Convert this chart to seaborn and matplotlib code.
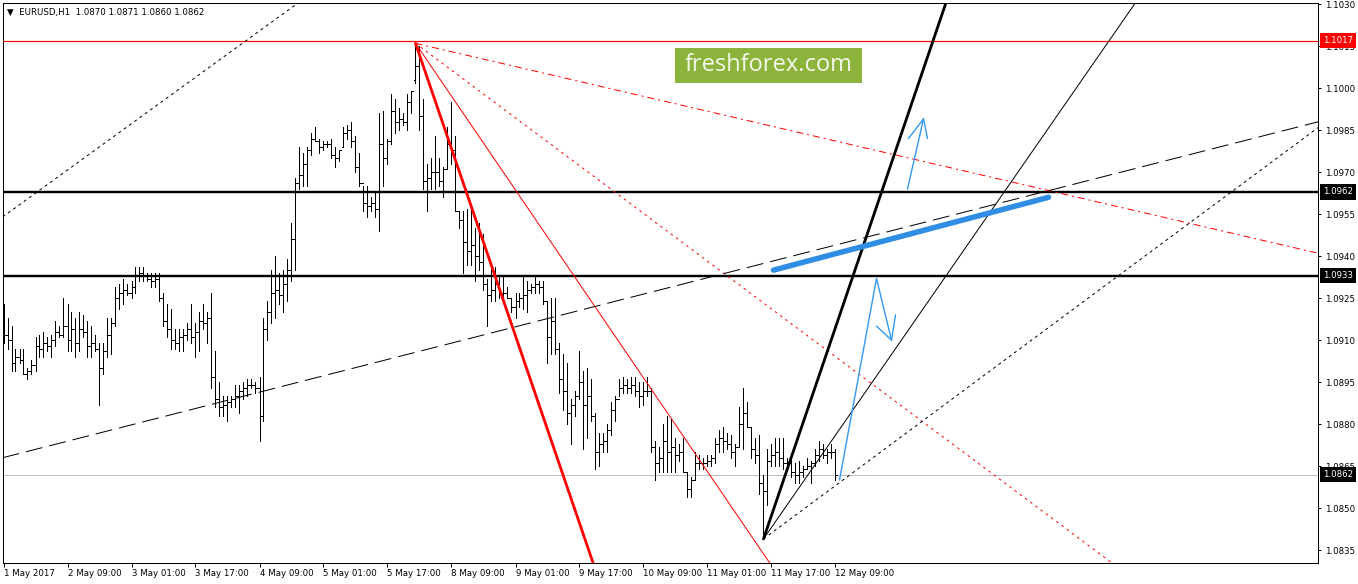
import numpy as np
import matplotlib
matplotlib.use("Agg")
import matplotlib.pyplot as plt
import matplotlib.transforms as mtransforms
from matplotlib.patches import Rectangle
import seaborn as sns

# ---------------- data (EURUSD H1) ----------------
title_text = "EURUSD,H1  1.0870 1.0871 1.0860 1.0862"

opens = [
    1.0915, 1.0912, 1.0910, 1.0902, 1.0904, 1.0903, 1.0898, 1.0899, 1.0901, 1.0908,
    1.0907, 1.0909, 1.0908, 1.0910, 1.0913, 1.0912, 1.0915, 1.0910, 1.0914, 1.0909,
    1.0914, 1.0913, 1.0908, 1.0909, 1.0907, 1.0900, 1.0906, 1.0912, 1.0916, 1.0925,
    1.0927, 1.0928, 1.0927, 1.0929, 1.0933, 1.0934, 1.0933, 1.0932, 1.0931, 1.0932,
    1.0925, 1.0917, 1.0914, 1.0910, 1.0909, 1.0911, 1.0912, 1.0914, 1.0911, 1.0913,
    1.0917, 1.0916, 1.0918, 1.0897, 1.0889, 1.0886, 1.0887, 1.0888, 1.0889, 1.0890,
    1.0892, 1.0893, 1.0894, 1.0894, 1.0893, 1.0883, 1.0914, 1.0920, 1.0927, 1.0928,
    1.0926, 1.0930, 1.0935, 1.0946, 1.0966, 1.0969, 1.0973, 1.0978, 1.0982, 1.0981,
    1.0979, 1.0980, 1.0980, 1.0976, 1.0975, 1.0979, 1.0984, 1.0985, 1.0981, 1.0972,
    1.0966, 1.0959, 1.0958, 1.0959, 1.0957, 1.0980, 1.0975, 1.0981, 1.0992, 1.0988,
    1.0989, 1.0988, 1.0995, 1.1003, 1.1008, 1.0990, 1.0967, 1.0968, 1.0970, 1.0970,
    1.0967, 1.0971, 1.0980, 1.0978, 1.0956, 1.0953, 1.0945, 1.0942, 1.0944, 1.0940,
    1.0938, 1.0930, 1.0926, 1.0928, 1.0930, 1.0927, 1.0927, 1.0925, 1.0922, 1.0924,
    1.0925, 1.0926, 1.0928, 1.0929, 1.0930, 1.0929, 1.0924, 1.0911, 1.0917, 1.0907,
    1.0896, 1.0892, 1.0884, 1.0887, 1.0890, 1.0895, 1.0887, 1.0890, 1.0883, 1.0870,
    1.0873, 1.0874, 1.0878, 1.0885, 1.0889, 1.0893, 1.0894, 1.0893, 1.0894, 1.0892,
    1.0890, 1.0892, 1.0892, 1.0872, 1.0866, 1.0868, 1.0874, 1.0870, 1.0872, 1.0869,
    1.0870, 1.0863, 1.0857, 1.0860, 1.0866, 1.0866, 1.0866, 1.0867, 1.0868, 1.0873,
    1.0875, 1.0874, 1.0873, 1.0870, 1.0872, 1.0880, 1.0884, 1.0879, 1.0871, 1.0869,
    1.0859, 1.0856, 1.0867, 1.0869, 1.0870, 1.0868, 1.0866, 1.0866, 1.0863, 1.0862,
    1.0863, 1.0864, 1.0865, 1.0866, 1.0869, 1.0871, 1.0869, 1.0870, 1.0870,
]
highs = [
    1.0923, 1.0918, 1.0915, 1.0907, 1.0907, 1.0907, 1.0900, 1.0903, 1.0911, 1.0912,
    1.0913, 1.0911, 1.0912, 1.0917, 1.0915, 1.0925, 1.0923, 1.0920, 1.0918, 1.0920,
    1.0919, 1.0917, 1.0915, 1.0912, 1.0909, 1.0909, 1.0918, 1.0918, 1.0929, 1.0930,
    1.0932, 1.0930, 1.0931, 1.0936, 1.0936, 1.0936, 1.0934, 1.0934, 1.0934, 1.0934,
    1.0927, 1.0923, 1.0921, 1.0914, 1.0914, 1.0914, 1.0916, 1.0923, 1.0916, 1.0920,
    1.0923, 1.0920, 1.0927, 1.0906, 1.0895, 1.0890, 1.0890, 1.0890, 1.0894, 1.0894,
    1.0895, 1.0896, 1.0896, 1.0895, 1.0897, 1.0918, 1.0924, 1.0935, 1.0940, 1.0934,
    1.0935, 1.0939, 1.0952, 1.0968, 1.0979, 1.0977, 1.0979, 1.0984, 1.0986, 1.0982,
    1.0981, 1.0981, 1.0982, 1.0979, 1.0978, 1.0986, 1.0987, 1.0988, 1.0983, 1.0977,
    1.0965, 1.0965, 1.0961, 1.0963, 1.0991, 1.0992, 1.0982, 1.0998, 1.0996, 1.0993,
    1.0991, 1.0998, 1.0999, 1.1016, 1.1015, 1.0996, 1.0973, 1.0975, 1.0983, 1.0975,
    1.0972, 1.0986, 1.0995, 1.0983, 1.0956, 1.0956, 1.0957, 1.0957, 1.0950, 1.0952,
    1.0948, 1.0932, 1.0936, 1.0936, 1.0933, 1.0933, 1.0929, 1.0925, 1.0927, 1.0927,
    1.0933, 1.0931, 1.0930, 1.0933, 1.0931, 1.0931, 1.0924, 1.0925, 1.0925, 1.0909,
    1.0905, 1.0902, 1.0889, 1.0892, 1.0906, 1.0899, 1.0900, 1.0896, 1.0884, 1.0877,
    1.0877, 1.0880, 1.0888, 1.0890, 1.0896, 1.0897, 1.0896, 1.0897, 1.0897, 1.0895,
    1.0895, 1.0897, 1.0893, 1.0874, 1.0872, 1.0880, 1.0883, 1.0882, 1.0875, 1.0873,
    1.0875, 1.0863, 1.0861, 1.0870, 1.0869, 1.0868, 1.0869, 1.0869, 1.0875, 1.0878,
    1.0879, 1.0877, 1.0876, 1.0873, 1.0886, 1.0893, 1.0888, 1.0879, 1.0875, 1.0876,
    1.0862, 1.0871, 1.0873, 1.0875, 1.0875, 1.0875, 1.0868, 1.0868, 1.0866, 1.0867,
    1.0865, 1.0868, 1.0867, 1.0871, 1.0874, 1.0873, 1.0871, 1.0873, 1.0871,
]
lows = [
    1.0909, 1.0907, 1.0899, 1.0899, 1.0902, 1.0898, 1.0896, 1.0898, 1.0899, 1.0904,
    1.0904, 1.0906, 1.0904, 1.0908, 1.0911, 1.0911, 1.0906, 1.0906, 1.0904, 1.0906,
    1.0911, 1.0904, 1.0904, 1.0906, 1.0887, 1.0898, 1.0904, 1.0905, 1.0915, 1.0921,
    1.0923, 1.0926, 1.0925, 1.0927, 1.0931, 1.0931, 1.0931, 1.0929, 1.0929, 1.0924,
    1.0915, 1.0911, 1.0907, 1.0907, 1.0906, 1.0906, 1.0910, 1.0909, 1.0904, 1.0906,
    1.0914, 1.0909, 1.0893, 1.0886, 1.0883, 1.0883, 1.0881, 1.0886, 1.0886, 1.0884,
    1.0889, 1.0890, 1.0893, 1.0891, 1.0874, 1.0881, 1.0910, 1.0916, 1.0918, 1.0923,
    1.0920, 1.0924, 1.0931, 1.0935, 1.0964, 1.0965, 1.0965, 1.0976, 1.0981, 1.0977,
    1.0978, 1.0979, 1.0975, 1.0972, 1.0974, 1.0979, 1.0982, 1.0979, 1.0970, 1.0965,
    1.0956, 1.0954, 1.0956, 1.0954, 1.0949, 1.0965, 1.0973, 1.0980, 1.0984, 1.0985,
    1.0987, 1.0985, 1.0991, 1.1002, 1.0985, 1.0964, 1.0956, 1.0964, 1.0964, 1.0965,
    1.0961, 1.0971, 1.0973, 1.0956, 1.0950, 1.0934, 1.0937, 1.0937, 1.0931, 1.0935,
    1.0928, 1.0915, 1.0924, 1.0924, 1.0925, 1.0924, 1.0925, 1.0920, 1.0918, 1.0922,
    1.0921, 1.0920, 1.0927, 1.0927, 1.0927, 1.0923, 1.0902, 1.0905, 1.0905, 1.0891,
    1.0885, 1.0880, 1.0873, 1.0883, 1.0889, 1.0871, 1.0875, 1.0881, 1.0864, 1.0865,
    1.0870, 1.0870, 1.0876, 1.0881, 1.0890, 1.0891, 1.0891, 1.0891, 1.0890, 1.0886,
    1.0887, 1.0890, 1.0870, 1.0860, 1.0863, 1.0863, 1.0863, 1.0863, 1.0863, 1.0867,
    1.0863, 1.0854, 1.0854, 1.0860, 1.0864, 1.0864, 1.0865, 1.0865, 1.0866, 1.0870,
    1.0870, 1.0871, 1.0868, 1.0865, 1.0872, 1.0871, 1.0879, 1.0868, 1.0866, 1.0855,
    1.0839, 1.0851, 1.0865, 1.0865, 1.0865, 1.0864, 1.0865, 1.0861, 1.0859, 1.0859,
    1.0861, 1.0864, 1.0859, 1.0865, 1.0867, 1.0868, 1.0866, 1.0868, 1.0860,
]
closes = [
    1.0912, 1.0910, 1.0902, 1.0904, 1.0903, 1.0898, 1.0899, 1.0901, 1.0908, 1.0907,
    1.0909, 1.0908, 1.0910, 1.0913, 1.0912, 1.0915, 1.0910, 1.0914, 1.0909, 1.0914,
    1.0913, 1.0908, 1.0909, 1.0907, 1.0900, 1.0906, 1.0912, 1.0916, 1.0925, 1.0927,
    1.0928, 1.0927, 1.0929, 1.0933, 1.0934, 1.0933, 1.0932, 1.0931, 1.0932, 1.0925,
    1.0917, 1.0914, 1.0910, 1.0909, 1.0911, 1.0912, 1.0914, 1.0911, 1.0913, 1.0917,
    1.0916, 1.0918, 1.0897, 1.0889, 1.0886, 1.0887, 1.0888, 1.0889, 1.0890, 1.0892,
    1.0893, 1.0894, 1.0894, 1.0893, 1.0883, 1.0914, 1.0920, 1.0927, 1.0928, 1.0926,
    1.0930, 1.0935, 1.0946, 1.0966, 1.0969, 1.0973, 1.0978, 1.0982, 1.0981, 1.0979,
    1.0980, 1.0980, 1.0976, 1.0975, 1.0978, 1.0984, 1.0985, 1.0981, 1.0972, 1.0966,
    1.0959, 1.0958, 1.0959, 1.0957, 1.0980, 1.0975, 1.0981, 1.0992, 1.0988, 1.0989,
    1.0988, 1.0995, 1.0999, 1.1008, 1.0990, 1.0967, 1.0968, 1.0970, 1.0970, 1.0967,
    1.0971, 1.0980, 1.0978, 1.0956, 1.0953, 1.0945, 1.0942, 1.0944, 1.0940, 1.0938,
    1.0930, 1.0926, 1.0928, 1.0930, 1.0927, 1.0927, 1.0925, 1.0922, 1.0924, 1.0925,
    1.0926, 1.0928, 1.0929, 1.0930, 1.0929, 1.0924, 1.0911, 1.0917, 1.0907, 1.0896,
    1.0892, 1.0884, 1.0887, 1.0890, 1.0895, 1.0887, 1.0890, 1.0883, 1.0870, 1.0873,
    1.0874, 1.0878, 1.0885, 1.0889, 1.0893, 1.0894, 1.0893, 1.0894, 1.0892, 1.0890,
    1.0892, 1.0892, 1.0872, 1.0866, 1.0868, 1.0874, 1.0870, 1.0872, 1.0869, 1.0870,
    1.0863, 1.0857, 1.0860, 1.0866, 1.0866, 1.0866, 1.0867, 1.0868, 1.0873, 1.0875,
    1.0874, 1.0873, 1.0870, 1.0872, 1.0880, 1.0884, 1.0879, 1.0871, 1.0869, 1.0859,
    1.0856, 1.0867, 1.0869, 1.0870, 1.0868, 1.0866, 1.0866, 1.0863, 1.0862, 1.0863,
    1.0864, 1.0865, 1.0866, 1.0869, 1.0871, 1.0869, 1.0870, 1.0870, 1.0862,
]

time_labels = ["1 May 2017", "2 May 09:00", "3 May 01:00", "3 May 17:00",
               "4 May 09:00", "5 May 01:00", "5 May 17:00", "8 May 09:00",
               "9 May 01:00", "9 May 17:00", "10 May 09:00", "11 May 01:00",
               "11 May 17:00", "12 May 09:00"]
time_label_bars = [0, 16, 32, 48, 64, 80, 96, 112, 128, 144, 160, 176, 192, 208]

price_ticks = [1.0835, 1.0850, 1.0865, 1.0880, 1.0895, 1.0910, 1.0925,
               1.0940, 1.0955, 1.0970, 1.0985, 1.1000, 1.1015, 1.1030]

red_level = 1.1017
black_levels = [1.09629, 1.0933]
black_level_labels = ["1.0962", "1.0933"]
bid_price = 1.0862

# fan from the 5 May top (bar 103)
red_thick_x, red_thick_y = [103, 147.5], [1.1016, 1.0830]
red_thin_x, red_thin_y = [103, 191.75], [1.1016, 1.0830]
red_dot_x, red_dot_y = [103, 277.5], [1.1016, 1.0830]
red_dashdot_x, red_dashdot_y = [103, 328.75], [1.1016, 1.0941]

# fan from the 11 May low (bar 190)
black_thick_x, black_thick_y = [190, 235.5], [1.0839, 1.1030]
black_thin_x, black_thin_y = [190, 282.75], [1.0839, 1.1030]
black_dot_x, black_dot_y = [190, 328.75], [1.0839, 1.0986]
black_dot2_x, black_dot2_y = [-0.2, 73.25], [1.0954, 1.1030]
long_dash_x, long_dash_y = [-0.2, 328.75], [1.0868, 1.0988]

# blue forecast marks
blue_thick_x, blue_thick_y = [192.5, 261.25], [1.0935, 1.0961]
zigzag_x, zigzag_y = [209, 218.25, 222], [1.0860, 1.0932, 1.0910]
zig_head_x = [[222, 223], [222, 218.25]]
zig_head_y = [[1.0910, 1.0919], [1.0910, 1.0915]]
arrow_x, arrow_y = [226, 230], [1.0964, 1.0989]
arrow_head_x = [[230, 226.25], [230, 231]]
arrow_head_y = [[1.0989, 1.0982], [1.0989, 1.0982]]

# ---------------- drawing ----------------
sns.set_style("white")
plt.rcParams['font.family'] = ['DejaVu Sans']

PX = 0.72  # one pixel in points at 100 dpi

fig = plt.figure(figsize=(13.58, 5.84), dpi=100)
ax = fig.add_axes([3 / 1358, 21 / 584, 1315 / 1358, 560 / 584])

bars = np.arange(len(closes))
ax.vlines(bars, lows, highs, color='black', lw=PX, antialiased=False, zorder=2)
ax.hlines(opens, bars - 0.3, bars, color='black', lw=PX, antialiased=False, zorder=2)
ax.hlines(closes, bars, bars + 0.3, color='black', lw=PX, antialiased=False, zorder=2)

# horizontal levels
ax.axhline(bid_price, color='#c0c0c0', lw=PX, zorder=1)
ax.axhline(red_level, color='red', lw=1.2 * PX, zorder=3)
for lvl in black_levels:
    ax.axhline(lvl, color='black', lw=2.4 * PX, zorder=3)


def trend(x, y, color, lw, ls='-'):
    sns.lineplot(x=x, y=y, color=color, linewidth=lw * PX, linestyle=ls,
                 sort=False, estimator=None, ax=ax, zorder=3)


trend(red_thick_x, red_thick_y, 'red', 2.8)
trend(red_thin_x, red_thin_y, 'red', 1.0)
trend(red_dot_x, red_dot_y, 'red', 1.0, (0, (2.5, 4)))
trend(red_dashdot_x, red_dashdot_y, 'red', 1.0, (0, (7, 4, 2, 4)))

trend(black_thick_x, black_thick_y, 'black', 2.8)
trend(black_thin_x, black_thin_y, 'black', 1.0)
trend(black_dot_x, black_dot_y, 'black', 1.0, (0, (3, 3.5)))
trend(black_dot2_x, black_dot2_y, 'black', 1.0, (0, (3, 3.5)))
trend(long_dash_x, long_dash_y, 'black', 1.0, (0, (17, 7)))

trend(blue_thick_x, blue_thick_y, '#2f8de4', 5.5)
trend(zigzag_x, zigzag_y, '#3399f0', 1.4)
for hx, hy in zip(zig_head_x, zig_head_y):
    trend(hx, hy, '#3399f0', 1.4)
trend(arrow_x, arrow_y, '#3399f0', 1.4)
for hx, hy in zip(arrow_head_x, arrow_head_y):
    trend(hx, hy, '#3399f0', 1.4)

ax.set_xlim(-0.125, -0.125 + 1315 / 4)
ax.set_ylim(1.08304, 1.10304)

for sp in ax.spines.values():
    sp.set_visible(True)
    sp.set_color('black')
    sp.set_linewidth(PX)

# price axis on the right
ax.yaxis.tick_right()
ax.set_yticks(price_ticks)
ax.set_yticklabels([f"{v:.4f}" for v in price_ticks])
ax.tick_params(axis='y', which='major', right=True, left=False, direction='out',
               length=3 * PX, width=PX, pad=3, labelsize=6.2, colors='black')

# time axis
ax.set_xticks(time_label_bars)
ax.set_xticklabels(time_labels)
ax.tick_params(axis='x', which='major', bottom=True, direction='out',
               length=4 * PX, width=PX, pad=1.5, labelsize=6.2, colors='black')
for lbl in ax.get_xticklabels():
    lbl.set_horizontalalignment('left')
ax.set_xlabel("")
ax.set_ylabel("")

# price boxes on the right scale
tr = mtransforms.blended_transform_factory(ax.transAxes, ax.transData)
ax.text(1.0035, red_level, "1.1017", transform=tr, ha='left', va='center',
        fontsize=6.2, color='white', clip_on=False, zorder=6,
        bbox=dict(boxstyle='square,pad=0.35', fc='red', ec='none'))
for lvl, txt in zip(black_levels, black_level_labels):
    ax.text(1.0035, lvl, txt, transform=tr, ha='left', va='center',
            fontsize=6.2, color='white', clip_on=False, zorder=6,
            bbox=dict(boxstyle='square,pad=0.35', fc='black', ec='none'))
ax.text(1.0035, bid_price, "1.0862", transform=tr, ha='left', va='center',
        fontsize=6.2, color='white', clip_on=False, zorder=6,
        bbox=dict(boxstyle='square,pad=0.35', fc='black', ec='none'))

# header
ax.text(0.003, 0.983, "\u25BC  " + title_text, transform=ax.transAxes,
        ha='left', va='center', fontsize=6.2, color='black', zorder=6)

# logo
fig.patches.append(Rectangle((675 / 1358, 501 / 584), 187 / 1358, 35 / 584,
                             transform=fig.transFigure, facecolor='#8cb43c',
                             edgecolor='none', zorder=5))
fig.text(769 / 1358, 519 / 584, "freshforex.com", ha='center', va='center',
         fontsize=17, color='#f4f8ea', family=['Open Sans', 'DejaVu Sans'],
         zorder=6)

fig.savefig("out.png", dpi=100)
